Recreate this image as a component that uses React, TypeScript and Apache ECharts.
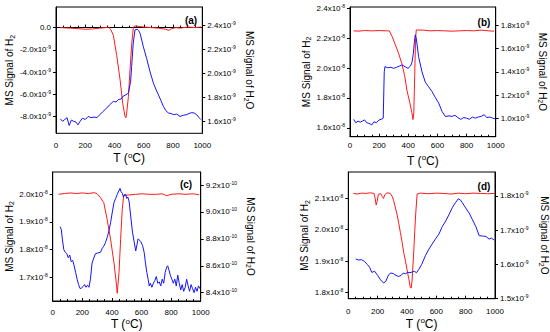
import React, { useEffect, useRef } from "react";
import * as echarts from "echarts";

const FONT = '"Liberation Sans", Arial, Helvetica, sans-serif';
const RED = "#ff1a1a";
const BLUE = "#1414ff";

// Temperature ticks (°C)
const xTicks = [0, 200, 400, 600, 800, 1000];

// ---- Panel (a): H2 in 1e-9, H2O in 1e-9 ----
const aT_H2 = [30, 60, 100, 150, 200, 250, 300, 340, 360, 375, 392, 415, 438, 456, 472, 478, 483, 495, 506, 518, 529, 540, 600, 650, 700, 750, 770, 790, 820, 850, 900, 950, 990];
const aH2 = [0.0, -0.03, -0.05, -0.1, -0.15, -0.12, -0.05, 0.0, 0.05, -0.2, -0.7, -2.5, -4.7, -6.8, -8.0, -8.1, -7.7, -6.2, -3.8, -1.4, 0.05, 0.15, 0.05, 0.0, -0.05, -0.15, -0.25, -0.1, 0.0, -0.05, 0.05, 0.0, 0.05];
const aT_H2O = [30, 45, 60, 75, 90, 105, 120, 135, 150, 165, 180, 200, 220, 240, 260, 280, 300, 320, 347, 365, 392, 410, 426, 445, 460, 478, 495, 510, 517, 528, 540, 555, 565, 575, 597, 620, 643, 666, 685, 700, 718, 734, 750, 768, 785, 803, 825, 848, 870, 894, 910, 928, 945, 962, 978, 990];
const aH2O = [1.62, 1.6, 1.615, 1.63, 1.565, 1.61, 1.6, 1.595, 1.57, 1.6, 1.625, 1.615, 1.64, 1.63, 1.635, 1.63, 1.655, 1.68, 1.71, 1.735, 1.765, 1.76, 1.78, 1.785, 1.81, 1.82, 1.835, 1.93, 2.055, 2.25, 2.36, 2.365, 2.355, 2.33, 2.22, 2.12, 2.01, 1.917, 1.86, 1.82, 1.77, 1.724, 1.69, 1.669, 1.665, 1.655, 1.66, 1.64, 1.65, 1.655, 1.665, 1.672, 1.668, 1.655, 1.63, 1.614];

// ---- Panel (b): H2 in 1e-8, H2O in 1e-9 ----
const bT_H2 = [25, 60, 100, 150, 200, 250, 270, 290, 310, 333, 356, 375, 391, 410, 425, 432, 438, 444, 450, 455, 500, 550, 600, 650, 700, 750, 800, 850, 900, 950, 990];
const bH2 = [2.25, 2.248, 2.252, 2.25, 2.252, 2.25, 2.25, 2.21, 2.16, 2.1, 2.03, 1.95, 1.85, 1.77, 1.7, 1.655, 1.7, 1.95, 2.2, 2.256, 2.255, 2.25, 2.252, 2.25, 2.248, 2.25, 2.252, 2.25, 2.255, 2.25, 2.248];
const bT_H2O = [25, 40, 55, 70, 85, 100, 115, 130, 150, 165, 180, 200, 215, 228, 235, 240, 260, 280, 300, 320, 340, 356, 370, 385, 398, 415, 425, 435, 442, 448, 455, 471, 494, 517, 540, 563, 585, 609, 632, 655, 680, 700, 720, 740, 760, 780, 800, 820, 840, 860, 880, 900, 920, 940, 960, 980, 995];
const bH2O = [0.99, 0.96, 0.975, 0.965, 0.975, 0.985, 0.96, 0.955, 0.943, 0.97, 0.96, 0.985, 0.99, 1.0, 1.4, 1.445, 1.435, 1.44, 1.43, 1.44, 1.45, 1.46, 1.45, 1.44, 1.43, 1.45, 1.48, 1.56, 1.66, 1.72, 1.69, 1.53, 1.4, 1.31, 1.27, 1.23, 1.18, 1.13, 1.057, 1.014, 1.02, 1.015, 1.025, 1.005, 0.99, 1.005, 1.0, 0.99, 1.01, 1.0, 1.01, 1.015, 1.03, 1.005, 1.01, 1.0, 0.995];

// ---- Panel (c): H2 in 1e-8, H2O in 1e-10 ----
const cT_H2 = [40, 80, 120, 160, 200, 240, 280, 300, 320, 345, 368, 391, 414, 432, 436, 448, 459, 470, 480, 520, 560, 600, 650, 700, 740, 770, 800, 850, 900, 950, 990];
const cH2 = [2.0, 2.003, 2.005, 2.003, 2.005, 2.003, 2.006, 2.002, 1.99, 1.97, 1.909, 1.837, 1.752, 1.667, 1.641, 1.716, 1.837, 1.946, 1.996, 1.998, 2.0, 2.002, 2.0, 2.0, 2.002, 1.995, 2.0, 2.002, 2.0, 2.002, 1.998];
const cT_H2O = [50, 58, 65, 75, 85, 95, 105, 115, 125, 135, 145, 155, 165, 175, 185, 195, 205, 215, 225, 235, 245, 255, 266, 275, 289, 305, 323, 335, 345, 356, 368, 380, 391, 403, 414, 425, 436, 446, 455, 462, 470, 478, 485, 493, 500, 508, 516, 527, 539, 550, 561, 570, 577, 586, 595, 607, 618, 627, 636, 645, 652, 660, 670, 680, 690, 700, 710, 720, 730, 740, 750, 760, 770, 777, 785, 795, 805, 815, 825, 835, 845, 855, 865, 875, 885, 895, 905, 915, 925, 935, 945, 955, 965, 975, 985, 995];
const cH2O = [8.89, 8.87, 8.8, 8.72, 8.7, 8.69, 8.66, 8.68, 8.63, 8.64, 8.6, 8.55, 8.5, 8.46, 8.43, 8.435, 8.445, 8.46, 8.44, 8.455, 8.44, 8.5, 8.62, 8.65, 8.69, 8.695, 8.7, 8.73, 8.745, 8.77, 8.81, 8.86, 8.92, 9.0, 9.07, 9.1, 9.13, 9.155, 9.175, 9.15, 9.14, 9.11, 9.13, 9.13, 9.1, 9.11, 9.08, 8.97, 8.85, 8.78, 8.71, 8.76, 8.8, 8.79, 8.78, 8.75, 8.7, 8.62, 8.55, 8.5, 8.45, 8.47, 8.44, 8.47, 8.49, 8.52, 8.47, 8.48, 8.45, 8.5, 8.47, 8.55, 8.59, 8.6, 8.57, 8.53, 8.5, 8.47, 8.5, 8.45, 8.53, 8.47, 8.42, 8.46, 8.41, 8.44, 8.5, 8.45, 8.41, 8.46, 8.43, 8.4, 8.44, 8.41, 8.45, 8.43];

// ---- Panel (d): H2 in 1e-8, H2O in 1e-9 ----
const dT_H2 = [35, 60, 90, 120, 150, 175, 183, 190, 197, 205, 220, 232, 240, 248, 263, 286, 300, 309, 320, 332, 344, 355, 367, 378, 390, 400, 412, 423, 429, 435, 446, 458, 469, 490, 550, 600, 650, 700, 750, 800, 850, 900, 950, 995];
const dH2 = [2.115, 2.113, 2.116, 2.115, 2.117, 2.115, 2.1, 2.078, 2.09, 2.112, 2.115, 2.105, 2.099, 2.11, 2.117, 2.115, 2.105, 2.092, 2.072, 2.049, 2.02, 1.991, 1.96, 1.927, 1.9, 1.874, 1.845, 1.816, 1.815, 1.84, 1.93, 2.04, 2.113, 2.116, 2.114, 2.116, 2.115, 2.113, 2.116, 2.114, 2.116, 2.115, 2.114, 2.115];
const dT_H2O = [50, 70, 90, 110, 130, 145, 160, 180, 200, 220, 240, 255, 275, 290, 309, 325, 343, 360, 375, 389, 405, 420, 435, 450, 465, 480, 500, 526, 550, 572, 595, 618, 640, 664, 686, 709, 730, 750, 765, 778, 800, 824, 847, 870, 892, 915, 938, 960, 975, 995];
const dH2O = [1.616, 1.613, 1.614, 1.609, 1.6, 1.592, 1.577, 1.58, 1.568, 1.555, 1.546, 1.55, 1.57, 1.575, 1.573, 1.568, 1.565, 1.568, 1.575, 1.573, 1.577, 1.576, 1.578, 1.58, 1.576, 1.585, 1.6, 1.626, 1.645, 1.66, 1.675, 1.689, 1.71, 1.727, 1.745, 1.766, 1.78, 1.792, 1.788, 1.78, 1.765, 1.75, 1.73, 1.71, 1.684, 1.683, 1.682, 1.674, 1.677, 1.671];

// Axis tick labels (mantissas) per panel
const aLeftTicks = [-8, -6, -4, -2, 0];
const aRightTicks = [1.6, 1.8, 2.0, 2.2, 2.4];
const bLeftTicks = [1.6, 1.8, 2.0, 2.2, 2.4];
const bRightTicks = [1.0, 1.2, 1.4, 1.6, 1.8];
const cLeftTicks = [1.7, 1.8, 1.9, 2.0];
const cRightTicks = [8.4, 8.6, 8.8, 9.0, 9.2];
const dLeftTicks = [1.8, 1.9, 2.0, 2.1];
const dRightTicks = [1.5, 1.6, 1.7, 1.8];

const panelLabels = ["(a)", "(b)", "(c)", "(d)"];

const zip = (xs: number[], ys: number[]) => xs.map((x, i) => [x, ys[i]]);

const tickRich = {
  m: { fontSize: 8, fontFamily: FONT, color: "#000", lineHeight: 10 },
  s: { fontSize: 5, fontFamily: FONT, color: "#000", lineHeight: 5, verticalAlign: "top" },
};
const nameRich = {
  n: { fontSize: 10, fontFamily: FONT, color: "#000", lineHeight: 12 },
  b: { fontSize: 7, fontFamily: FONT, color: "#000", lineHeight: 7, verticalAlign: "bottom" },
};
const xNameRich = {
  n: { fontSize: 12, fontFamily: FONT, color: "#000", lineHeight: 14 },
  s: { fontSize: 8, fontFamily: FONT, color: "#000", lineHeight: 8, verticalAlign: "top" },
};

const fmt = (exp: string, zeroPlain = false) => (v: number) => {
  if (zeroPlain && Math.abs(v) < 1e-9) return "{m|0.0}";
  return `{m|${v.toFixed(1)}x10}{s|${exp}}`;
};

export default function App() {
  const ref = useRef<HTMLDivElement>(null);
  useEffect(() => {
    if (!ref.current) return;
    const chart = echarts.init(ref.current, undefined, { renderer: "svg" });

    const panels = [
      { grid: { left: 56, top: 7, width: 146.3, height: 126.3 }, xm: 8, xg: 18, lmin: -9.5, lmax: 1.85, rmin: 1.5, rmax: 2.55, lt: aLeftTicks, rt: aRightTicks, le: "-9", re: "-9", zero: true, lg: 39, rg: 41, h2: zip(aT_H2, aH2), h2o: zip(aT_H2O, aH2O), lab: [191, 20] },
      { grid: { left: 350, top: 7, width: 145.7, height: 129.7 }, xm: 5, xg: 17, lmin: 1.54, lmax: 2.41, rmin: 0.84, rmax: 1.96, lt: bLeftTicks, rt: bRightTicks, le: "-8", re: "-9", zero: false, lg: 38, rg: 41, h2: zip(bT_H2, bH2), h2o: zip(bT_H2O, bH2O), lab: [484, 22] },
      { grid: { left: 52.7, top: 172, width: 148, height: 129 }, xm: 7, xg: 16, lmin: 1.613, lmax: 2.081, rmin: 8.338, rmax: 9.297, lt: cLeftTicks, rt: cRightTicks, le: "-8", re: "-10", zero: false, lg: 37, rg: 44, h2: zip(cT_H2, cH2), h2o: zip(cT_H2O, cH2O), lab: [186, 184] },
      { grid: { left: 348.3, top: 172, width: 146.7, height: 126.7 }, xm: 9, xg: 18, lmin: 1.781, lmax: 2.183, rmin: 1.5, rmax: 1.87, lt: dLeftTicks, rt: dRightTicks, le: "-8", re: "-9", zero: false, lg: 36, rg: 43, h2: zip(dT_H2, dH2), h2o: zip(dT_H2O, dH2O), lab: [484, 186] },
    ];

    const grid: any[] = [];
    const xAxis: any[] = [];
    const yAxis: any[] = [];
    const series: any[] = [];
    const graphic: any[] = [];

    panels.forEach((p, i) => {
      grid.push({
        ...p.grid,
        show: true,
        borderColor: "#000",
        borderWidth: 1,
        backgroundColor: "transparent",
        containLabel: false,
        outerBoundsMode: "none",
      });
      xAxis.push({
        gridIndex: i,
        type: "value",
        min: 0,
        max: 1000,
        interval: 200,
        name: "{n|T (}{s|o}{n|C)}",
        nameLocation: "middle",
        nameGap: p.xg,
        nameTextStyle: { rich: xNameRich },
        axisLine: { show: true, lineStyle: { color: "#000", width: 1 } },
        axisTick: { show: true, inside: true, length: 3, lineStyle: { color: "#000" } },
        minorTick: { show: true, splitNumber: 4, length: 2, lineStyle: { color: "#000" } },
        splitLine: { show: false },
        axisLabel: {
          fontSize: 8,
          fontFamily: FONT,
          color: "#000",
          margin: p.xm,
          customValues: xTicks,
          formatter: (v: number) => String(Math.round(v)),
        },
      });
      const yBase = (pos: string, min: number, max: number, ticks: number[], exp: string, zero: boolean, gap: number, nameText: string, rot: number) => ({
        gridIndex: i,
        type: "value",
        position: pos,
        min,
        max,
        name: nameText,
        nameLocation: "middle",
        nameRotate: rot,
        nameGap: gap,
        nameTextStyle: { rich: nameRich },
        axisLine: { show: true, onZero: false, lineStyle: { color: "#000", width: 1 } },
        axisTick: { show: true, inside: false, length: 3, customValues: ticks, lineStyle: { color: "#000" } },
        splitLine: { show: false },
        axisLabel: { margin: 5, customValues: ticks, formatter: fmt(exp, zero), rich: tickRich },
      });
      yAxis.push(yBase("left", p.lmin, p.lmax, p.lt, p.le, p.zero, p.lg, "{n|MS Signal of H}{b|2}", 90));
      yAxis.push(yBase("right", p.rmin, p.rmax, p.rt, p.re, false, p.rg, "{n|MS Signal of H}{b|2}{n|O}", -90));
      series.push({
        type: "line",
        name: `H2 ${panelLabels[i]}`,
        xAxisIndex: i,
        yAxisIndex: 2 * i,
        data: p.h2,
        showSymbol: false,
        lineStyle: { color: RED, width: 1 },
        itemStyle: { color: RED },
      });
      series.push({
        type: "line",
        name: `H2O ${panelLabels[i]}`,
        xAxisIndex: i,
        yAxisIndex: 2 * i + 1,
        data: p.h2o,
        showSymbol: false,
        lineStyle: { color: BLUE, width: 1 },
        itemStyle: { color: BLUE },
      });
      graphic.push({
        type: "text",
        x: p.lab[0],
        y: p.lab[1],
        style: {
          text: panelLabels[i],
          fontSize: 10,
          fontWeight: "bold",
          fontFamily: FONT,
          fill: "#000",
          align: "center",
          verticalAlign: "middle",
        },
      });
    });

    chart.setOption({
      animation: false,
      backgroundColor: "#fff",
      grid,
      xAxis,
      yAxis,
      series,
      graphic,
    });
    return () => chart.dispose();
  }, []);
  return <div ref={ref} style={{ position: "fixed", left: 0, top: 0, width: 550, height: 332 }} />;
}
